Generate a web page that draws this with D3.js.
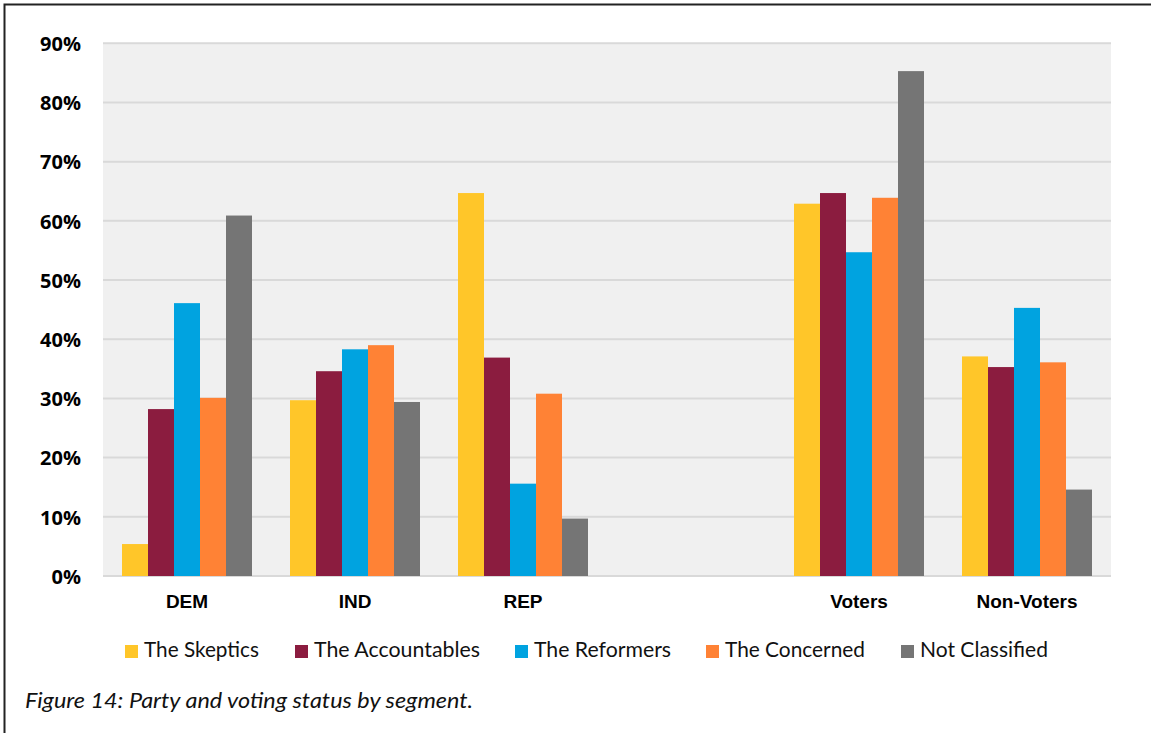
<!DOCTYPE html>
<html>
<head>
<meta charset="utf-8">
<script src="https://cdn.jsdelivr.net/npm/d3@7/dist/d3.min.js"></script>
<style>
  html, body { margin: 0; padding: 0; background: #fff; }
  svg { display: block; }
</style>
</head>
<body>
<svg id="chart" width="1151" height="733"></svg>
<script>
const categories = ["DEM", "IND", "REP", "", "Voters", "Non-Voters"];
const seriesNames = ["The Skeptics", "The Accountables", "The Reformers", "The Concerned", "Not Classified"];
const skeptics     = [5.4, 29.7, 64.7, null, 62.9, 37.1];
const accountables = [28.2, 34.6, 36.9, null, 64.7, 35.3];
const reformers    = [46.1, 38.3, 15.6, null, 54.7, 45.3];
const concerned    = [30.1, 39.0, 30.8, null, 63.9, 36.1];
const notClassified= [60.9, 29.4, 9.7, null, 85.3, 14.6];
const yTicks = [0, 10, 20, 30, 40, 50, 60, 70, 80, 90];
const colors = ["#FFC629", "#8B1C3F", "#00A3E0", "#FF8235", "#757575"];
const caption = "Figure 14: Party and voting status by segment.";

// legend layout (style): swatch x positions and label widths
const legendX = [125, 295, 515, 706, 901];
const legendW = [115, 166, 137, 140, 128];

const seriesValues = [skeptics, accountables, reformers, concerned, notClassified];

const svg = d3.select("#chart");
const plot = { left: 103, right: 1111, top: 43.3, bottom: 576 };

// Border
svg.append("rect")
  .attr("x", 4.5).attr("y", 4.5)
  .attr("width", 1170).attr("height", 760)
  .attr("fill", "none").attr("stroke", "#222").attr("stroke-width", 2);

const y = d3.scaleLinear().domain([0, 90]).range([plot.bottom, plot.top]);
const x0 = d3.scaleBand().domain(categories).range([plot.left, plot.right]).padding(0);
const groupPad = (x0.bandwidth() - 130) / 2;
const x1 = d3.scaleBand().domain(seriesNames).range([groupPad, x0.bandwidth() - groupPad]).padding(0);

// Plot background
svg.append("rect")
  .attr("x", plot.left).attr("y", plot.top)
  .attr("width", plot.right - plot.left).attr("height", plot.bottom - plot.top)
  .attr("fill", "#F0F0F0");

// Gridlines
svg.append("g").selectAll("line").data(yTicks).join("line")
  .attr("x1", plot.left).attr("x2", plot.right)
  .attr("y1", d => y(d)).attr("y2", d => y(d))
  .attr("stroke", "#D9D9D9").attr("stroke-width", 2);

// Y axis labels
const yAxis = d3.axisLeft(y).tickValues(yTicks).tickFormat(d => d + "%").tickSize(0).tickPadding(0);
const yg = svg.append("g").attr("transform", `translate(81,0)`).call(yAxis);
yg.select(".domain").remove();
yg.selectAll("text")
  .attr("font-family", "'Open Sans', sans-serif")
  .attr("font-weight", 700)
  .attr("font-size", 20)
  .attr("fill", "#000")
  .attr("dy", "0.36em");

// Bars
const rows = [];
categories.forEach((c, ci) => {
  seriesNames.forEach((s, si) => {
    const v = seriesValues[si][ci];
    if (v !== null) rows.push({ c, s, v, color: colors[si] });
  });
});
svg.append("g").selectAll("rect").data(rows).join("rect")
  .attr("x", d => x0(d.c) + x1(d.s))
  .attr("width", x1.bandwidth())
  .attr("y", d => y(d.v))
  .attr("height", d => y(0) - y(d.v))
  .attr("fill", d => d.color);

// X axis labels
const xAxis = d3.axisBottom(x0).tickSize(0).tickPadding(0);
const xg = svg.append("g").attr("transform", `translate(0,${plot.bottom})`).call(xAxis);
xg.select(".domain").remove();
xg.selectAll("text")
  .attr("font-family", "'Liberation Sans Narrow', 'Arial Narrow', 'Liberation Sans', sans-serif")
  .attr("font-weight", 700)
  .attr("font-size", 19)
  .attr("fill", "#000")
  .attr("dy", "0")
  .attr("y", 32);

// Legend
const legend = svg.append("g");
seriesNames.forEach((s, i) => {
  const lx = legendX[i];
  legend.append("rect")
    .attr("x", lx).attr("y", 645).attr("width", 13).attr("height", 13)
    .attr("fill", colors[i]);
  legend.append("text")
    .attr("x", lx + 19).attr("y", 657)
    .attr("font-family", "Lato, 'Open Sans', sans-serif")
    .attr("font-size", 21)
    .attr("fill", "#111")
    .attr("textLength", legendW[i])
    .attr("lengthAdjust", "spacingAndGlyphs")
    .text(s);
});

// Caption
svg.append("text")
  .attr("x", 25).attr("y", 708)
  .attr("font-family", "Lato, 'Open Sans', sans-serif")
  .attr("font-style", "italic")
  .attr("font-size", 21)
  .attr("fill", "#111")
  .attr("textLength", 448)
  .attr("lengthAdjust", "spacingAndGlyphs")
  .text(caption);
</script>
</body>
</html>
